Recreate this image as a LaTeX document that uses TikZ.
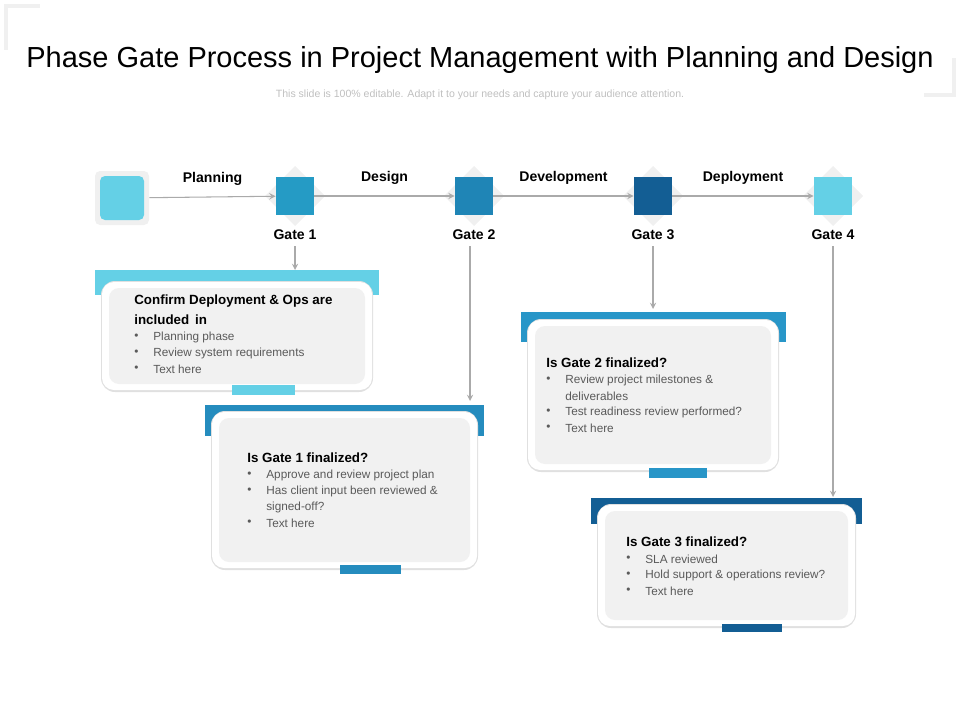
\documentclass[tikz,border=0pt]{standalone}
\usepackage{fontspec}
\setmainfont{Liberation Sans}
\usetikzlibrary{positioning}
\definecolor{cyanA}{RGB}{100,208,230}
\definecolor{blueA}{RGB}{37,155,197}
\definecolor{blueB}{RGB}{31,133,182}
\definecolor{blueC}{RGB}{19,94,148}
\definecolor{tabB}{RGB}{37,140,190}
\definecolor{tabC}{RGB}{40,150,200}
\definecolor{cardgrey}{RGB}{241,241,241}
\definecolor{linegrey}{RGB}{170,170,170}
\definecolor{txtgrey}{RGB}{90,90,90}
\tikzset{
  gate/.style={minimum size=38*0.02cm, inner sep=0pt},
  lbl/.style={font=\fontsize{8}{9}\selectfont\bfseries},
  flow/.style={draw=linegrey, line width=0.6pt, -stealth},
  head/.style={anchor=west, inner sep=0pt, font=\fontsize{7.6}{9}\selectfont\bfseries},
  item/.style={anchor=west, inner sep=0pt, text=txtgrey, font=\fontsize{6.7}{8}\selectfont},
}
\newcommand{\gatecard}[9]{%
  % #1 tab colour, #2-#5 tab box, #6-#9 white card box
  \fill[#1] (#2,#3) rectangle (#4,#5);
  \fill[white, rounded corners=12*0.02cm, drop shadow/.style={}] (#6,#7) rectangle (#8,#9);
  \fill[black!12, rounded corners=14*0.02cm] (#6-1,#7-1) rectangle (#8+1,#9+2);
  \fill[white, rounded corners=12*0.02cm] (#6,#7) rectangle (#8,#9);
  \fill[cardgrey, rounded corners=10*0.02cm] (#6+7,#7+6) rectangle (#8-7,#9-6);
}
\begin{document}
\begin{tikzpicture}[x=0.02cm, y=-0.02cm]
\useasboundingbox (0,0) rectangle (960,720);
% corner marks
\draw[black!6, line width=2pt] (6,50) -- (6,6) -- (40,6);
\draw[black!6, line width=2pt] (924,95) -- (954,95) -- (954,58);
% title
\node (title) at (480,60) {\fontsize{16.5}{18}\selectfont Phase Gate Process in Project Management with Planning and Design};
\node[text=black!25] (sub) at (480,95) {\fontsize{6}{7}\selectfont This slide is 100\% editable. Adapt it to your needs and capture your audience attention.};
% start and gates
\node[fill=black!6, rounded corners=5*0.02cm, minimum size=54*0.02cm] (startbg) at (122,198) {};
\node[fill=cyanA, rounded corners=5*0.02cm, minimum size=44*0.02cm] (start) at (122,198) {};
\foreach \x/\c/\n in {295/blueA/g1, 474/blueB/g2, 653/blueC/g3, 833/cyanA/g4}{
  \fill[black!6] (\x-30,196) -- (\x,166) -- (\x+30,196) -- (\x,226) -- cycle;
  \node[gate, fill=\c] (\n) at (\x,196) {};
}
\draw[flow] (startbg) -- node[lbl, above=3pt]{Planning} (g1);
\draw[flow] (g1) -- node[lbl, above=3pt]{Design} (g2);
\draw[flow] (g2) -- node[lbl, above=3pt]{Development} (g3);
\draw[flow] (g3) -- node[lbl, above=3pt]{Deployment} (g4);
\node[lbl] (l1) at (295,235) {Gate 1};
\node[lbl] (l2) at (474,235) {Gate 2};
\node[lbl] (l3) at (653,235) {Gate 3};
\node[lbl] (l4) at (833,235) {Gate 4};
% cards
\gatecard{cyanA}{95}{270}{379}{295}{102}{282}{372}{390}
\fill[cyanA] (232,385) rectangle (295,395);
\gatecard{tabB}{205}{405}{484}{436}{212}{412}{477}{568}
\fill[tabB] (340,565) rectangle (401,574);
\gatecard{tabC}{521}{312}{786}{342}{528}{320}{778}{470}
\fill[tabC] (649,468) rectangle (707,478);
\gatecard{blueC}{591}{498}{862}{524}{598}{505}{855}{626}
\fill[blueC] (722,624) rectangle (782,632);
\coordinate (c1) at (295,270);
\coordinate (c2) at (470,401);
\coordinate (c3) at (653,309);
\coordinate (c4) at (833,497);
\draw[flow] (l1) -- (c1);
\draw[flow] (l2.south -| c2) -- (c2);
\draw[flow] (l3) -- (c3);
\draw[flow] (l4) -- (c4);
% card texts
\node[head] (h1a) at (134,301) {Confirm Deployment \& Ops are};
\node[head] (h1b) at (134,320) {included\, in};
\foreach \y/\t in {337/Planning phase, 353/Review system requirements, 369/Text here}{
  \node[item] at (134,\y) {•}; \node[item] at (153,\y) {\t};
}
\node[head] (h2) at (247,458) {Is Gate 1 finalized?};
\foreach \y/\t in {475/Approve and review project plan, 491/Has client input been reviewed \&, 523/Text here}{
  \node[item] at (247,\y) {•}; \node[item] at (266,\y) {\t};
}
\node[item] at (266,507) {signed-off?};
\node[head] (h3) at (546,363) {Is Gate 2 finalized?};
\foreach \y/\t in {380/Review project milestones \&, 412/Test readiness review performed?, 428/Text here}{
  \node[item] at (546,\y) {•}; \node[item] at (565,\y) {\t};
}
\node[item] at (565,396) {deliverables};
\node[head] (h4) at (626,542) {Is Gate 3 finalized?};
\foreach \y/\t in {559/SLA reviewed, 575/Hold support \& operations review?, 591/Text here}{
  \node[item] at (626,\y) {•}; \node[item] at (645,\y) {\t};
}
\end{tikzpicture}
\end{document}
